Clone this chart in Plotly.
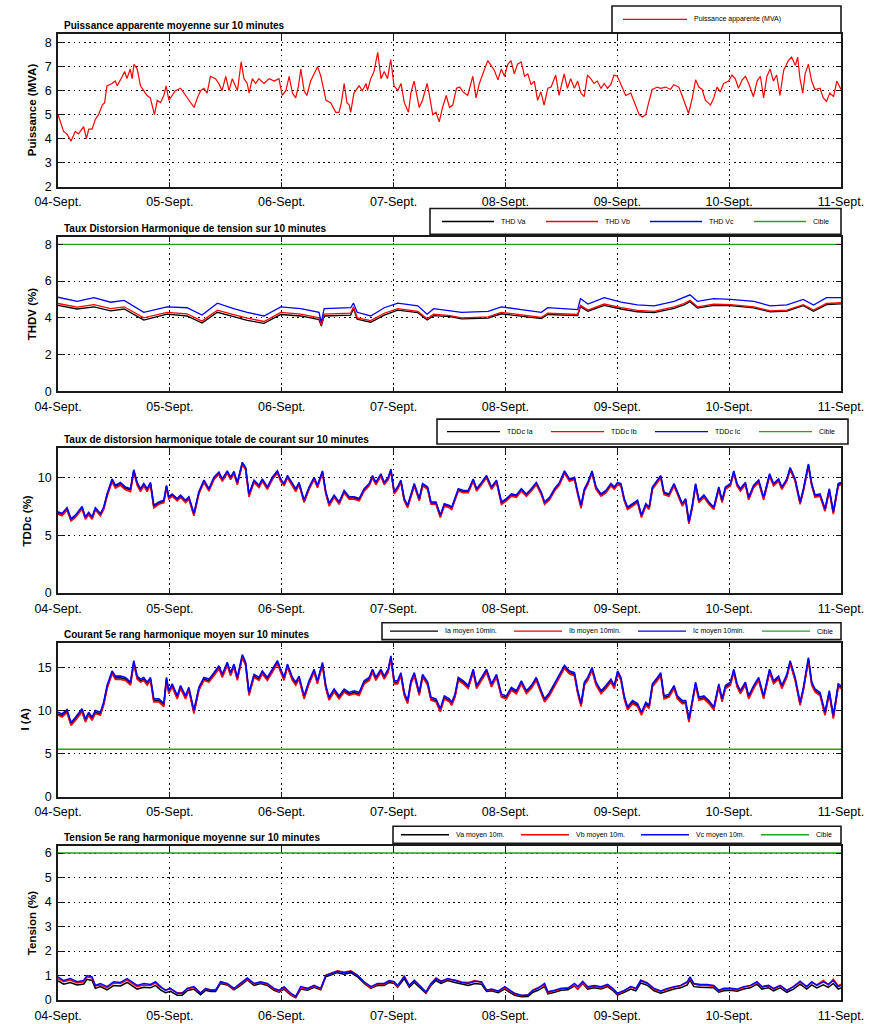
import plotly.graph_objects as go

# ---------------- data ----------------
DAY_HOURS = [0, 24, 48, 72, 96, 120, 144, 168]
DAY_LABELS = ["04-Sept.", "05-Sept.", "06-Sept.", "07-Sept.", "08-Sept.", "09-Sept.", "10-Sept.", "11-Sept."]

# Panel 1 : apparent power (MVA), time in hours from 04-Sept 00:00
T_PUIS = [0, 1.2, 1.9, 2.8, 3.7, 4.4, 5.5, 6.1, 6.6, 7.3,
          8.0, 8.7, 9.5, 10.0, 10.5, 11.6, 12.3, 12.7, 13.8, 14.3,
          14.8, 15.5, 15.9, 16.3, 17.0, 17.7, 18.4, 19.1, 19.8, 20.7,
          21.3, 22.0, 22.7, 23.2, 23.8, 24.5, 25.2, 26.3, 27.0, 28.1,
          29.2, 29.9, 30.6, 31.3, 32.0, 32.7, 33.8, 34.5, 35.2, 36.0,
          36.7, 37.4, 38.5, 39.3, 39.9, 40.6, 41.0, 41.7, 42.4, 43.1,
          44.2, 45.3, 46.4, 47.4, 48.1, 48.9, 49.6, 50.3, 51.0, 51.6,
          52.1, 52.8, 53.4, 54.2, 54.9, 55.7, 56.4, 56.7, 57.5, 58.5,
          59.6, 60.3, 60.8, 61.4, 62.0, 62.5, 62.8, 63.5, 64.6, 65.3,
          66.1, 66.4, 67.1, 67.8, 68.6, 69.3, 70.0, 70.7, 71.4, 72.1,
          72.9, 73.6, 74.3, 75.2, 75.7, 76.4, 77.5, 78.2, 79.2, 79.7,
          80.4, 81.1, 81.8, 82.5, 83.3, 84.0,
          84.7, 85.5, 86.2, 86.9, 87.9, 89.0, 89.7, 90.4, 91.2, 92.2,
          92.9, 93.6, 94.4, 95.1, 95.8, 96.5, 97.2, 97.9, 98.6, 99.4,
          100.1, 100.8, 101.5, 102.2, 102.9, 103.6, 104.3, 105.1, 105.8, 106.8,
          107.5, 108.6, 109.3, 110.0, 110.8, 111.5, 112.2, 112.9, 113.6, 114.3,
          115.0, 115.7, 116.5, 117.2, 117.9, 118.6, 119.3, 120.0, 120.7, 121.8,
          122.9, 123.6, 124.7, 125.4, 126.1, 126.8, 127.5, 128.6, 129.3, 130.4,
          131.4, 132.1, 133.2, 133.9, 134.6, 135.3, 136.1, 136.8, 137.5, 138.2,
          138.9, 140.0, 140.7, 141.4, 142.1, 142.8, 143.9, 144.6, 145.3, 146.0,
          146.8, 147.5, 148.2, 149.2, 150.0, 150.7, 151.4, 152.1, 152.8, 153.5,
          154.2, 154.9, 155.7, 156.7, 157.4, 158.2, 158.7, 159.2, 159.8, 160.3,
          161.0, 161.7, 162.4, 163.5, 164.2, 164.9, 165.6, 166.4, 167.1, 168.0]
PUISSANCE = [5.0, 4.3, 4.2, 3.9, 4.3, 4.2, 4.5, 4.0, 4.4, 4.4,
             4.8, 5.0, 5.4, 5.5, 6.2, 6.3, 6.4, 6.2, 6.6, 6.8,
             6.5, 6.9, 6.5, 7.1, 6.9, 6.2, 6.0, 5.8, 5.7, 5.0,
             5.6, 5.5, 5.8, 6.2, 5.6, 5.8, 6.0, 6.1, 5.9, 5.6,
             5.3, 5.7, 6.0, 6.1, 5.9, 6.6, 6.5, 6.3, 6.0, 6.6,
             6.0, 6.5, 6.0, 7.2, 6.5, 6.3, 5.9, 6.5, 6.3, 6.5,
             6.3, 6.5, 6.4, 6.5, 5.8, 6.0, 6.6, 5.9, 5.7, 6.2,
             6.9, 6.0, 5.8, 6.4, 6.7, 7.0, 6.6, 6.3, 5.6, 5.5,
             5.1, 5.1, 5.5, 6.3, 5.5, 5.4, 5.1, 5.9, 6.2, 6.0,
             6.3, 6.0, 6.5, 6.8, 7.6, 6.5, 6.8, 6.5, 7.3, 6.2,
             6.0, 6.3, 5.5, 5.1, 5.9, 6.4, 5.3, 5.6, 6.3, 5.8,
             5.0, 5.1, 4.7, 5.3, 5.8, 5.3,
             5.4, 6.1, 6.15, 5.95, 5.8, 6.6, 5.7, 6.3, 6.7, 7.25,
             7.05, 6.85, 6.45, 6.9, 6.6, 7.1, 7.25, 6.7, 7.1, 7.2,
             6.6, 6.7, 6.25, 6.4, 5.6, 5.95, 5.4, 6.1, 6.15, 6.65,
             5.8, 6.7, 6.1, 6.5, 6.1, 6.4, 5.9, 5.75, 6.65, 6.5,
             6.3, 6.4, 6.1, 6.3, 6.1, 6.25, 6.65, 6.6, 6.3, 5.8,
             5.9, 5.55, 5.0, 4.9, 5.0, 5.55, 6.05, 6.15, 6.1, 6.15,
             6.05, 6.25, 6.15, 5.8, 5.4, 5.05, 5.7, 6.45, 6.15, 6.05,
             5.6, 5.4, 5.7, 6.15, 5.95, 6.3, 6.4, 6.65, 6.5, 6.1,
             6.45, 6.6, 6.3, 5.75, 6.4, 6.6, 5.7, 6.6, 6.9, 6.4,
             6.65, 5.8, 6.85, 7.25, 7.4, 7.05, 7.4, 6.5, 5.9, 6.7,
             7.1, 6.4, 6.05, 6.1, 5.7, 5.55, 5.9, 5.75, 6.4, 6.05]

# Panel 2 : THDV (%)
T_THD = [0, 4.1, 7.7, 11.3, 14.2, 18.4, 23.4, 27.7, 30.9, 34.2,
         37.7, 40.6, 44.2, 47.8, 52.1, 56.0, 56.5, 57.1, 62.8, 63.4,
         64.2, 67.1, 70.0, 72.9, 77.2, 79.2, 80.6, 84.1, 86.6, 92.3,
         95.1, 99.4, 103.7, 105.1, 111.5, 112.1, 113.7, 117.2, 120.8, 124.3,
         127.9, 132.2, 134.3, 135.6, 137.2, 140.7, 144.3, 149.3, 152.8, 156.4,
         159.9, 162.1, 164.9, 168.0]
THD_VC = [5.12, 4.9, 5.1, 4.85, 4.95, 4.3, 4.6, 4.55, 4.15, 4.8,
          4.5, 4.3, 4.1, 4.6, 4.5, 4.3, 3.75, 4.5, 4.55, 4.8,
          4.3, 4.1, 4.55, 4.8, 4.65, 4.2, 4.5, 4.4, 4.3, 4.35,
          4.6, 4.45, 4.3, 4.55, 4.45, 5.05, 4.75, 5.1, 4.85, 4.7,
          4.65, 4.9, 5.1, 5.25, 4.9, 5.05, 5.0, 4.9, 4.65, 4.7,
          5.0, 4.7, 5.1, 5.1]
THD_VB = [4.78, 4.58, 4.72, 4.5, 4.6, 4.0, 4.3, 4.22, 3.82, 4.42,
          4.18, 3.98, 3.8, 4.3, 4.2, 4.0, 3.6, 4.2, 4.25, 4.6,
          4.0, 3.85, 4.25, 4.5, 4.35, 3.95, 4.2, 4.12, 4.0, 4.05,
          4.3, 4.15, 4.02, 4.25, 4.18, 4.68, 4.42, 4.75, 4.55, 4.4,
          4.35, 4.6, 4.78, 4.95, 4.6, 4.75, 4.72, 4.6, 4.38, 4.42,
          4.72, 4.42, 4.78, 4.82]
THD_VA = [4.68, 4.48, 4.6, 4.38, 4.48, 3.88, 4.2, 4.1, 3.72, 4.3,
          4.06, 3.86, 3.7, 4.18, 4.1, 3.9, 3.55, 4.1, 4.15, 4.5,
          3.92, 3.76, 4.15, 4.42, 4.28, 3.88, 4.12, 4.06, 3.94, 3.98,
          4.22, 4.08, 3.96, 4.18, 4.12, 4.6, 4.36, 4.68, 4.48, 4.33,
          4.28, 4.52, 4.7, 4.88, 4.53, 4.68, 4.66, 4.54, 4.32, 4.36,
          4.66, 4.36, 4.72, 4.76]
CIBLE_THDV = 8.0

# Panels 3 and 4 share the same sampling instants
T_HARM = [0.0, 0.86, 1.93, 2.79, 3.73, 5.16, 5.87, 6.59, 7.31, 8.02,
          9.10, 9.81, 10.53, 11.61, 12.32, 13.40, 14.47, 15.55, 16.26, 16.98,
          17.70, 18.41, 19.13, 19.84, 20.56, 21.64, 22.71, 23.28, 23.78, 24.50,
          25.58, 26.29, 27.37, 28.08, 29.16, 30.23, 31.31, 32.38, 33.46, 34.53,
          35.25, 36.32, 37.04, 37.75, 38.47, 39.55, 40.26, 40.98, 42.05, 43.13,
          43.84, 44.92, 45.99, 47.07, 47.78, 48.50, 49.22, 50.29, 51.01, 51.72,
          52.80, 53.87, 54.95, 55.66, 56.74, 57.46, 58.17, 59.25, 60.32, 61.40,
          62.47, 63.54, 64.62, 65.69, 66.77, 67.49, 68.20, 69.28, 69.99, 70.85,
          71.43, 72.14, 72.86, 73.57, 74.29, 75.01, 75.72, 76.44, 77.51, 78.23,
          79.31, 80.02, 81.10, 82.03, 82.89, 83.96,
          84.47, 85.18, 85.89, 86.96, 88.03, 89.09, 89.81, 90.87, 91.94, 93.01,
          94.08, 95.15, 96.21, 97.28, 98.35, 99.42, 100.49, 101.55, 102.62, 103.69,
          104.40, 105.47, 106.54, 107.61, 108.67, 109.74, 110.81, 111.52, 112.23, 112.95,
          113.66, 114.58, 115.44, 116.51, 117.57, 118.64, 119.35, 120.07, 120.78, 121.49,
          122.20, 123.27, 124.34, 125.19, 126.12, 126.83, 127.54, 128.61, 129.32, 130.03,
          131.10, 132.17, 132.88, 133.95, 134.66, 135.37, 136.09, 136.80, 137.51, 138.58,
          139.65, 140.71, 141.78, 142.49, 143.21, 144.27, 144.99, 145.70, 146.41, 147.48,
          148.19, 149.26, 150.33, 151.40, 152.68, 153.53, 154.60, 155.31, 156.38, 157.09,
          158.16, 159.23, 159.94, 161.01, 161.72, 162.43, 163.50, 164.57, 165.49, 166.35,
          167.41, 168.0]

# Panel 3 : TDDc (%)
TDDC_IC = [7.05, 6.9, 7.4, 6.45, 6.75, 7.5, 6.6, 7.0, 6.6, 7.4,
           6.9, 7.45, 8.6, 9.9, 9.35, 9.6, 9.2, 9.05, 10.7, 9.6,
           9.05, 9.5, 9.05, 9.6, 7.6, 7.9, 8.05, 9.35, 8.35, 8.6,
           8.2, 8.5, 8.05, 8.35, 6.9, 8.8, 9.8, 9.05, 10.05, 10.5,
           9.9, 10.6, 10.05, 10.55, 9.6, 11.35, 10.9, 8.6, 9.8, 9.35,
           9.9, 9.2, 10.05, 10.6, 9.9, 9.5, 10.2, 9.5, 9.05, 9.6,
           8.05, 9.2, 10.05, 9.35, 10.6, 8.8, 7.8, 8.5, 7.9, 8.9,
           8.35, 8.35, 8.2, 9.05, 9.5, 10.2, 9.6, 10.35, 9.6, 10.05,
           10.75, 8.8, 9.2, 9.8, 8.2, 7.6, 8.6, 9.5, 8.2, 9.5,
           9.2, 7.9, 7.9, 6.75, 7.75, 7.6,
           7.45, 8.3, 9.05, 8.9, 8.9, 9.9, 9.05, 9.6, 10.2, 9.2,
           9.8, 7.9, 8.2, 8.6, 8.5, 9.05, 8.6, 9.05, 9.6, 8.75,
           7.9, 8.3, 9.05, 9.6, 10.6, 9.9, 10.05, 8.75, 7.6, 9.05,
           9.6, 10.6, 9.2, 8.6, 8.9, 9.5, 9.2, 9.6, 9.5, 8.2,
           7.45, 7.75, 8.05, 6.75, 7.75, 7.45, 9.2, 9.8, 10.2, 8.75,
           8.6, 9.5, 8.75, 7.75, 8.2, 6.2, 7.6, 9.5, 8.05, 8.5,
           7.9, 7.45, 9.2, 8.05, 9.2, 9.5, 10.6, 9.5, 9.05, 9.6,
           8.3, 9.35, 9.8, 8.3, 10.35, 9.5, 9.9, 9.2, 9.9, 10.9,
           9.9, 7.9, 9.05, 11.2, 9.5, 8.5, 8.6, 7.3, 9.05, 7.05,
           9.5, 9.6]
TDDC_IB = [6.85, 6.7, 7.2, 6.25, 6.55, 7.3, 6.4, 6.8, 6.4, 7.2,
           6.7, 7.25, 8.4, 9.65, 9.1, 9.35, 8.95, 8.8, 10.5, 9.35,
           8.8, 9.3, 8.8, 9.4, 7.4, 7.7, 7.85, 9.15, 8.15, 8.4,
           8.0, 8.3, 7.85, 8.15, 6.7, 8.6, 9.6, 8.85, 9.85, 10.3,
           9.7, 10.4, 9.85, 10.35, 9.4, 11.15, 10.7, 8.35, 9.6, 9.15,
           9.7, 9.0, 9.85, 10.4, 9.7, 9.3, 10.0, 9.3, 8.8, 9.4,
           7.85, 9.0, 9.85, 9.15, 10.4, 8.6, 7.55, 8.3, 7.7, 8.7,
           8.15, 8.15, 8.0, 8.85, 9.3, 10.0, 9.4, 10.15, 9.4, 9.85,
           10.55, 8.6, 9.0, 9.6, 8.0, 7.4, 8.4, 9.3, 8.0, 9.3,
           9.0, 7.7, 7.7, 6.55, 7.55, 7.4,
           7.25, 8.1, 8.85, 8.7, 8.7, 9.7, 8.85, 9.4, 10.0, 9.0,
           9.6, 7.7, 8.0, 8.4, 8.3, 8.85, 8.4, 8.85, 9.4, 8.55,
           7.7, 8.1, 8.85, 9.4, 10.4, 9.7, 9.85, 8.55, 7.35, 8.85,
           9.4, 10.4, 9.0, 8.4, 8.7, 9.3, 9.0, 9.4, 9.3, 8.0,
           7.25, 7.55, 7.85, 6.55, 7.55, 7.25, 9.0, 9.6, 10.0, 8.55,
           8.4, 9.3, 8.55, 7.55, 8.0, 6.0, 7.4, 9.3, 7.85, 8.3,
           7.7, 7.25, 9.0, 7.85, 9.0, 9.3, 10.4, 9.3, 8.85, 9.4,
           8.1, 9.15, 9.6, 8.1, 10.15, 9.3, 9.7, 9.0, 9.7, 10.7,
           9.7, 7.7, 8.85, 11.0, 9.3, 8.3, 8.4, 7.1, 8.85, 6.85,
           9.3, 9.4]
TDDC_IA = [6.95, 6.8, 7.3, 6.35, 6.65, 7.4, 6.5, 6.9, 6.5, 7.3,
           6.8, 7.35, 8.5, 9.8, 9.25, 9.5, 9.1, 8.95, 10.6, 9.5,
           8.95, 9.4, 8.95, 9.5, 7.5, 7.8, 7.95, 9.25, 8.25, 8.5,
           8.1, 8.4, 7.95, 8.25, 6.8, 8.7, 9.7, 8.95, 9.95, 10.4,
           9.8, 10.5, 9.95, 10.45, 9.5, 11.25, 10.8, 8.5, 9.7, 9.25,
           9.8, 9.1, 9.95, 10.5, 9.8, 9.4, 10.1, 9.4, 8.95, 9.5,
           7.95, 9.1, 9.95, 9.25, 10.5, 8.7, 7.7, 8.4, 7.8, 8.8,
           8.25, 8.25, 8.1, 8.95, 9.4, 10.1, 9.5, 10.25, 9.5, 9.95,
           10.65, 8.7, 9.1, 9.7, 8.1, 7.5, 8.5, 9.4, 8.1, 9.4,
           9.1, 7.8, 7.8, 6.65, 7.65, 7.5,
           7.35, 8.2, 8.95, 8.8, 8.8, 9.8, 8.95, 9.5, 10.1, 9.1,
           9.7, 7.8, 8.1, 8.5, 8.4, 8.95, 8.5, 8.95, 9.5, 8.65,
           7.8, 8.2, 8.95, 9.5, 10.5, 9.8, 9.95, 8.65, 7.5, 8.95,
           9.5, 10.5, 9.1, 8.5, 8.8, 9.4, 9.1, 9.5, 9.4, 8.1,
           7.35, 7.65, 7.95, 6.65, 7.65, 7.35, 9.1, 9.7, 10.1, 8.65,
           8.5, 9.4, 8.65, 7.65, 8.1, 6.1, 7.5, 9.4, 7.95, 8.4,
           7.8, 7.35, 9.1, 7.95, 9.1, 9.4, 10.5, 9.4, 8.95, 9.5,
           8.2, 9.25, 9.7, 8.2, 10.25, 9.4, 9.8, 9.1, 9.8, 10.8,
           9.8, 7.8, 8.95, 11.1, 9.4, 8.4, 8.5, 7.2, 8.95, 6.95,
           9.4, 9.5]
CIBLE_TDDC = 15.0

# Panel 4 : 5th harmonic current (A)
I5_IC = [9.8, 9.6, 10.1, 8.6, 9.2, 10.2, 9.0, 9.8, 9.2, 10.0,
         9.8, 11.0, 12.9, 14.6, 14.0, 14.0, 13.85, 13.3, 15.8, 14.0,
         13.65, 13.85, 13.3, 13.85, 11.35, 11.35, 10.8, 13.85, 12.3, 13.1,
         11.7, 12.9, 11.7, 12.7, 10.0, 12.7, 13.85, 13.65, 14.4, 15.2,
         14.2, 15.6, 14.4, 15.4, 13.85, 16.5, 15.6, 12.1, 14.2, 13.85,
         14.6, 13.85, 14.8, 15.8, 14.8, 13.85, 15.4, 13.85, 13.3, 14.0,
         11.7, 13.45, 14.8, 13.45, 15.6, 12.9, 11.55, 12.5, 11.7, 12.5,
         12.1, 12.3, 12.1, 13.45, 13.85, 14.8, 13.85, 14.8, 14.0, 14.8,
         16.35, 13.45, 13.45, 14.4, 12.1, 11.15, 13.45, 14.4, 12.1, 14.2,
         13.3, 11.55, 11.35, 10.2, 11.7, 11.35,
         10.95, 11.9, 13.85, 13.45, 12.9, 14.8, 12.9, 13.85, 14.8, 13.1,
         14.2, 11.9, 11.7, 12.7, 12.3, 13.45, 12.3, 12.9, 13.85, 12.3,
         11.35, 12.1, 13.1, 14.2, 15.25, 14.6, 14.4, 12.3, 10.8, 13.3,
         13.85, 15.0, 13.3, 12.3, 12.9, 13.65, 12.9, 14.6, 13.85, 11.7,
         10.4, 11.15, 10.8, 9.8, 10.95, 10.6, 13.1, 13.85, 14.4, 11.7,
         11.9, 12.9, 11.7, 11.15, 11.15, 9.0, 11.35, 13.3, 11.55, 11.7,
         11.15, 10.4, 13.1, 11.35, 12.9, 13.3, 14.8, 13.1, 12.3, 13.3,
         11.7, 12.9, 13.85, 11.7, 14.8, 13.45, 14.0, 12.9, 14.2, 15.8,
         13.85, 10.95, 12.7, 16.15, 13.3, 12.5, 12.1, 9.8, 12.3, 9.4,
         13.1, 12.9]
I5_IB = [9.45, 9.25, 9.75, 8.25, 8.85, 9.85, 8.65, 9.45, 8.85, 9.65,
         9.45, 10.65, 12.55, 14.25, 13.6, 13.6, 13.5, 12.95, 15.45, 13.65,
         13.3, 13.5, 12.95, 13.5, 11.0, 11.0, 10.45, 13.5, 11.95, 12.75,
         11.35, 12.55, 11.35, 12.35, 9.65, 12.35, 13.5, 13.3, 14.05, 14.85,
         13.85, 15.25, 14.05, 15.05, 13.5, 16.15, 15.25, 11.75, 13.85, 13.5,
         14.25, 13.5, 14.45, 15.45, 14.45, 13.5, 15.05, 13.5, 12.95, 13.65,
         11.35, 13.1, 14.45, 13.1, 15.25, 12.55, 11.2, 12.15, 11.35, 12.15,
         11.75, 11.95, 11.75, 13.1, 13.5, 14.45, 13.5, 14.45, 13.65, 14.45,
         16.0, 13.1, 13.1, 14.05, 11.75, 10.8, 13.1, 14.05, 11.75, 13.85,
         12.95, 11.2, 11.0, 9.85, 11.35, 11.0,
         10.6, 11.55, 13.5, 13.1, 12.55, 14.45, 12.55, 13.5, 14.45, 12.75,
         13.85, 11.55, 11.35, 12.35, 11.95, 13.1, 11.95, 12.55, 13.5, 11.95,
         11.0, 11.75, 12.75, 13.85, 14.9, 14.25, 14.05, 11.95, 10.45, 12.95,
         13.5, 14.65, 12.95, 11.95, 12.55, 13.3, 12.55, 14.25, 13.5, 11.35,
         10.05, 10.8, 10.45, 9.45, 10.6, 10.25, 12.75, 13.5, 14.05, 11.35,
         11.55, 12.55, 11.35, 10.8, 10.8, 8.65, 11.0, 12.95, 11.2, 11.35,
         10.8, 10.05, 12.75, 11.0, 12.55, 12.95, 14.45, 12.75, 11.95, 12.95,
         11.35, 12.55, 13.5, 11.35, 14.45, 13.1, 13.65, 12.55, 13.85, 15.45,
         13.5, 10.6, 12.35, 15.8, 12.95, 12.15, 11.75, 9.45, 11.95, 9.05,
         12.75, 12.55]
I5_IA = [9.6, 9.4, 9.9, 8.4, 9.0, 10.0, 8.8, 9.6, 9.0, 9.8,
         9.6, 10.8, 12.7, 14.4, 13.8, 13.8, 13.65, 13.1, 15.6, 13.8,
         13.45, 13.65, 13.1, 13.65, 11.15, 11.15, 10.6, 13.65, 12.1, 12.9,
         11.5, 12.7, 11.5, 12.5, 9.8, 12.5, 13.65, 13.45, 14.2, 15.0,
         14.0, 15.4, 14.2, 15.2, 13.65, 16.3, 15.4, 11.9, 14.0, 13.65,
         14.4, 13.65, 14.6, 15.6, 14.6, 13.65, 15.2, 13.65, 13.1, 13.8,
         11.5, 13.25, 14.6, 13.25, 15.4, 12.7, 11.35, 12.3, 11.5, 12.3,
         11.9, 12.1, 11.9, 13.25, 13.65, 14.6, 13.65, 14.6, 13.8, 14.6,
         16.15, 13.25, 13.25, 14.2, 11.9, 10.95, 13.25, 14.2, 11.9, 14.0,
         13.1, 11.35, 11.15, 10.0, 11.5, 11.15,
         10.75, 11.7, 13.65, 13.25, 12.7, 14.6, 12.7, 13.65, 14.6, 12.9,
         14.0, 11.7, 11.5, 12.5, 12.1, 13.25, 12.1, 12.7, 13.65, 12.1,
         11.15, 11.9, 12.9, 14.0, 15.05, 14.4, 14.2, 12.1, 10.6, 13.1,
         13.65, 14.8, 13.1, 12.1, 12.7, 13.45, 12.7, 14.4, 13.65, 11.5,
         10.2, 10.95, 10.6, 9.6, 10.75, 10.4, 12.9, 13.65, 14.2, 11.5,
         11.7, 12.7, 11.5, 10.95, 10.95, 8.8, 11.15, 13.1, 11.35, 11.5,
         10.95, 10.2, 12.9, 11.15, 12.7, 13.1, 14.6, 12.9, 12.1, 13.1,
         11.5, 12.7, 13.65, 11.5, 14.6, 13.25, 13.8, 12.7, 14.0, 15.6,
         13.65, 10.75, 12.5, 15.95, 13.1, 12.3, 11.9, 9.6, 12.1, 9.2,
         12.9, 12.7]
CIBLE_I5 = 5.5

# Panel 5 : 5th harmonic voltage (%)
T_V5 = [0, 1.22, 2.65, 4.08, 5.52, 6.23, 7.31, 8.02, 9.10, 10.53,
        11.96, 13.40, 14.83, 15.90, 16.98, 18.41, 19.84, 20.92, 21.99, 23.07,
        24.14, 25.58, 26.65, 27.72, 29.16, 30.59, 31.66, 32.74, 33.81, 34.89,
        36.32, 37.75, 39.19, 40.62, 42.05, 43.49, 44.92, 46.35, 47.43, 48.50,
        49.93, 51.01, 52.08, 53.52, 54.95, 56.38, 57.46, 58.53, 59.96, 61.40,
        62.83, 64.26, 65.69, 67.13, 68.56, 69.99, 71.07, 72.14, 72.86, 74.29,
        75.37, 76.44, 77.51, 78.95, 80.02, 81.10, 82.17, 83.60,
        85.18, 86.60, 88.03, 89.45, 90.87, 91.94, 93.01, 94.43, 95.86, 96.93,
        97.99, 99.42, 100.84, 101.91, 102.98, 104.40, 105.11, 106.54, 107.96, 109.39,
        110.81, 111.52, 112.59, 113.66, 115.08, 116.51, 117.93, 119.00, 120.07, 121.49,
        122.91, 123.98, 125.05, 126.47, 127.90, 129.32, 130.75, 132.17, 133.59, 135.02,
        135.59, 136.44, 137.87, 139.29, 140.71, 141.78, 142.85, 144.27, 145.70, 147.12,
        148.55, 149.97, 151.04, 152.46, 153.53, 154.95, 156.38, 157.80, 159.23, 160.65,
        161.72, 162.79, 164.21, 165.28, 166.35, 167.41, 168.0]
V5_VC = [0.95, 0.8, 0.88, 0.75, 0.8, 1.0, 0.95, 0.6, 0.68, 0.55,
         0.75, 0.72, 0.88, 0.75, 0.6, 0.68, 0.64, 0.75, 0.55, 0.4,
         0.48, 0.28, 0.28, 0.48, 0.55, 0.28, 0.48, 0.4, 0.4, 0.75,
         0.68, 0.48, 0.68, 0.9, 0.68, 0.75, 0.68, 0.48, 0.4, 0.55,
         0.28, 0.15, 0.55, 0.48, 0.6, 0.48, 1.0, 1.08, 1.18, 1.12,
         1.18, 1.0, 0.75, 0.55, 0.68, 0.68, 0.8, 0.75, 0.6, 0.95,
         0.6, 0.8, 0.6, 0.34, 0.68, 0.88, 0.75, 0.88,
         0.8, 0.72, 0.68, 0.77, 0.75, 0.4, 0.45, 0.37, 0.55, 0.4,
         0.28, 0.2, 0.2, 0.4, 0.48, 0.68, 0.34, 0.4, 0.48, 0.48,
         0.68, 0.55, 0.77, 0.55, 0.6, 0.55, 0.64, 0.48, 0.28, 0.4,
         0.55, 0.48, 0.8, 0.68, 0.48, 0.37, 0.48, 0.55, 0.6, 0.75,
         0.95, 0.68, 0.64, 0.64, 0.6, 0.4, 0.48, 0.48, 0.45, 0.55,
         0.6, 0.75, 0.55, 0.6, 0.48, 0.6, 0.4, 0.55, 0.77, 0.55,
         0.75, 0.6, 0.75, 0.64, 0.8, 0.55, 0.6]
V5_VB = [0.88, 0.75, 0.82, 0.7, 0.75, 0.95, 0.9, 0.58, 0.62, 0.5,
         0.7, 0.68, 0.82, 0.7, 0.55, 0.62, 0.6, 0.7, 0.52, 0.42,
         0.45, 0.3, 0.3, 0.45, 0.52, 0.3, 0.45, 0.42, 0.42, 0.72,
         0.65, 0.45, 0.65, 0.86, 0.66, 0.72, 0.65, 0.45, 0.35, 0.5,
         0.22, 0.12, 0.5, 0.44, 0.56, 0.45, 1.02, 1.1, 1.2, 1.14,
         1.2, 1.02, 0.72, 0.5, 0.65, 0.64, 0.78, 0.72, 0.55, 1.0,
         0.58, 0.82, 0.62, 0.3, 0.64, 0.9, 0.78, 0.85,
         0.82, 0.74, 0.72, 0.8, 0.72, 0.42, 0.42, 0.35, 0.5, 0.38,
         0.25, 0.18, 0.22, 0.42, 0.52, 0.62, 0.3, 0.38, 0.45, 0.5,
         0.6, 0.45, 0.7, 0.5, 0.55, 0.5, 0.6, 0.45, 0.25, 0.38,
         0.55, 0.45, 0.82, 0.7, 0.45, 0.35, 0.45, 0.52, 0.58, 0.72,
         0.9, 0.65, 0.6, 0.6, 0.56, 0.38, 0.45, 0.45, 0.42, 0.52,
         0.58, 0.72, 0.52, 0.58, 0.45, 0.58, 0.4, 0.55, 0.72, 0.55,
         0.72, 0.62, 0.8, 0.62, 0.85, 0.58, 0.65]
V5_VA = [0.78, 0.65, 0.72, 0.62, 0.66, 0.85, 0.8, 0.48, 0.55, 0.42,
         0.6, 0.58, 0.72, 0.6, 0.45, 0.52, 0.5, 0.6, 0.42, 0.3,
         0.36, 0.2, 0.2, 0.38, 0.45, 0.22, 0.4, 0.35, 0.35, 0.68,
         0.62, 0.42, 0.6, 0.82, 0.6, 0.68, 0.6, 0.4, 0.32, 0.45,
         0.2, 0.1, 0.45, 0.4, 0.52, 0.42, 0.95, 1.02, 1.12, 1.06,
         1.12, 0.95, 0.68, 0.48, 0.6, 0.6, 0.72, 0.68, 0.52, 0.88,
         0.52, 0.72, 0.52, 0.28, 0.6, 0.8, 0.68, 0.8,
         0.72, 0.65, 0.6, 0.68, 0.65, 0.35, 0.38, 0.3, 0.45, 0.32,
         0.2, 0.14, 0.15, 0.32, 0.4, 0.55, 0.25, 0.32, 0.4, 0.42,
         0.58, 0.45, 0.68, 0.45, 0.5, 0.45, 0.55, 0.4, 0.2, 0.32,
         0.45, 0.38, 0.7, 0.6, 0.38, 0.28, 0.38, 0.45, 0.5, 0.62,
         0.82, 0.55, 0.52, 0.52, 0.5, 0.32, 0.38, 0.4, 0.36, 0.45,
         0.5, 0.65, 0.45, 0.5, 0.38, 0.5, 0.32, 0.45, 0.65, 0.45,
         0.62, 0.5, 0.62, 0.52, 0.68, 0.45, 0.5]
CIBLE_V5 = 6.0

# ---------------- layout helpers ----------------
W, H = 884, 1024
PX_L, PX_R = 58, 841
PANELS_PX = [(34, 188), (239, 394), (451, 597), (647, 802), (852, 1007)]
YRANGES = [[2, 8.37], [0, 8.38], [0, 12.6], [0, 17.9], [0, 6.28]]
YTICKS = [[2, 3, 4, 5, 6, 7, 8], [0, 2, 4, 6, 8], [0, 5, 10], [0, 5, 10, 15], [0, 1, 2, 3, 4, 5, 6]]
TITLES = ["Puissance apparente moyenne sur 10 minutes",
          "Taux Distorsion Harmonique de tension sur 10 minutes",
          "Taux de distorsion harmonique totale de courant sur 10 minutes",
          "Courant 5e rang harmonique moyen sur 10 minutes",
          "Tension 5e rang harmonique moyenne sur 10 minutes"]
YTITLES = ["Puissance (MVA)", "THDV (%)", "TDDc (%)", "I (A)", "Tension (%)"]
YTITLE_X_PX = [32, 32, 27, 25, 32]
# legend boxes: (left, top, right, bottom, first sample x, entry spacing, sample length) in px
LEG_PX = [(612, 6, 841, 33, 623, 0, 64),
          (430, 210, 841, 236, 442, 104, 52),
          (437, 422, 848, 447, 447, 104, 53),
          (382, 627, 841, 644, 390, 124, 48),
          (393, 832, 841, 849, 401, 120, 48)]

FONT = "Liberation Sans, Arial, Helvetica, sans-serif"
RED, BLUE, BLACK, GREEN = "#ff0000", "#0000ff", "#000000", "#1fa61f"
FRAME = "#1a1a1a"

def px_x(px):
    return (px - PX_L) / (PX_R - PX_L)

def px_y(py):
    return 1 - py / H

fig = go.Figure()
legend_items = [[] for _ in PANELS_PX]

def add(i, x, y, name, color, width):
    sfx = "" if i == 0 else str(i + 1)
    fig.add_trace(go.Scatter(x=x, y=y, name=name, mode="lines",
                             line=dict(color=color, width=width),
                             xaxis="x" + sfx, yaxis="y" + sfx,
                             showlegend=False, hoverinfo="skip"))
    legend_items[i].append((name, color))

# panel 1
add(0, T_PUIS, PUISSANCE, "Puissance apparente (MVA)", RED, 1.2)
# panel 2
add(1, T_THD, THD_VA, "THD Va", BLACK, 1.3)
add(1, T_THD, THD_VB, "THD Vb", RED, 1.3)
add(1, T_THD, THD_VC, "THD Vc", BLUE, 1.3)
add(1, [DAY_HOURS[0], DAY_HOURS[-1]], [CIBLE_THDV, CIBLE_THDV], "Cible", GREEN, 1.4)
# panel 3
add(2, T_HARM, TDDC_IA, "TDDc Ia", BLACK, 1.6)
add(2, T_HARM, TDDC_IB, "TDDc Ib", RED, 1.6)
add(2, T_HARM, TDDC_IC, "TDDc Ic", BLUE, 1.6)
add(2, [DAY_HOURS[0], DAY_HOURS[-1]], [CIBLE_TDDC, CIBLE_TDDC], "Cible", GREEN, 1.4)
# panel 4
add(3, T_HARM, I5_IA, "Ia moyen 10min.", BLACK, 1.6)
add(3, T_HARM, I5_IB, "Ib moyen 10min.", RED, 1.6)
add(3, T_HARM, I5_IC, "Ic moyen 10min.", BLUE, 1.6)
add(3, [DAY_HOURS[0], DAY_HOURS[-1]], [CIBLE_I5, CIBLE_I5], "Cible", GREEN, 1.5)
# panel 5
add(4, T_V5, V5_VA, "Va moyen 10m.", BLACK, 1.5)
add(4, T_V5, V5_VB, "Vb moyen 10m.", RED, 1.5)
add(4, T_V5, V5_VC, "Vc moyen 10m.", BLUE, 1.5)
add(4, [DAY_HOURS[0], DAY_HOURS[-1]], [CIBLE_V5, CIBLE_V5], "Cible", GREEN, 1.5)

layout = dict(width=W, height=H, margin=dict(l=PX_L, r=W - PX_R, t=0, b=0),
              paper_bgcolor="white", plot_bgcolor="white", showlegend=False,
              font=dict(family=FONT, color="black", size=12))

axis_common = dict(showline=True, linecolor=FRAME, linewidth=1.5, mirror="ticks",
                   ticks="inside", ticklen=5, tickwidth=1.2, tickcolor=FRAME,
                   showgrid=True, gridcolor="#000000", griddash="1.6px,3.6px", gridwidth=1.2,
                   zeroline=False, tickfont=dict(family=FONT, size=12.5, color="black"))

annotations = []
shapes = []
for i, (top, bot) in enumerate(PANELS_PX):
    sfx = "" if i == 0 else str(i + 1)
    layout["xaxis" + sfx] = dict(axis_common, domain=[0, 1], range=[DAY_HOURS[0], DAY_HOURS[-1]],
                                 tickmode="array", tickvals=DAY_HOURS, ticktext=DAY_LABELS,
                                 ticklabelstandoff=3, anchor="y" + sfx)
    layout["yaxis" + sfx] = dict(axis_common, domain=[px_y(bot), px_y(top)], range=YRANGES[i],
                                 tickmode="array", tickvals=YTICKS[i], ticklabelstandoff=2,
                                 anchor="x" + sfx)
    annotations.append(dict(text="<b>" + TITLES[i] + "</b>", xref="paper", yref="paper",
                            x=px_x(62), y=px_y(top - 1), xanchor="left", yanchor="bottom",
                            showarrow=False, font=dict(family=FONT, size=10, color="black")))
    annotations.append(dict(text="<b>" + YTITLES[i] + "</b>", xref="paper", yref="paper",
                            x=px_x(YTITLE_X_PX[i]), y=px_y((top + bot) / 2), textangle=-90,
                            xanchor="center", yanchor="middle", showarrow=False,
                            font=dict(family=FONT, size=11.5, color="black")))
    # legend box drawn for each panel
    l, t, r, b, x0, step, ln = LEG_PX[i]
    shapes.append(dict(type="rect", xref="paper", yref="paper",
                       x0=px_x(l), x1=px_x(r), y0=px_y(b), y1=px_y(t),
                       line=dict(color=FRAME, width=1.6), fillcolor="white", layer="above"))
    yc = px_y((t + b) / 2)
    for k, (name, color) in enumerate(legend_items[i]):
        xs = x0 + k * step
        shapes.append(dict(type="line", xref="paper", yref="paper",
                           x0=px_x(xs), x1=px_x(xs + ln), y0=yc, y1=yc,
                           line=dict(color=color, width=1.3), layer="above"))
        annotations.append(dict(text=name, xref="paper", yref="paper",
                                x=px_x(xs + ln + 5), y=yc, xanchor="left", yanchor="middle",
                                showarrow=False, font=dict(family=FONT, size=7, color="black")))

layout["annotations"] = annotations
layout["shapes"] = shapes
fig.update_layout(**layout)

fig.write_html("out.html", config={"displayModeBar": False},
               post_script="document.body.style.margin='0';")
